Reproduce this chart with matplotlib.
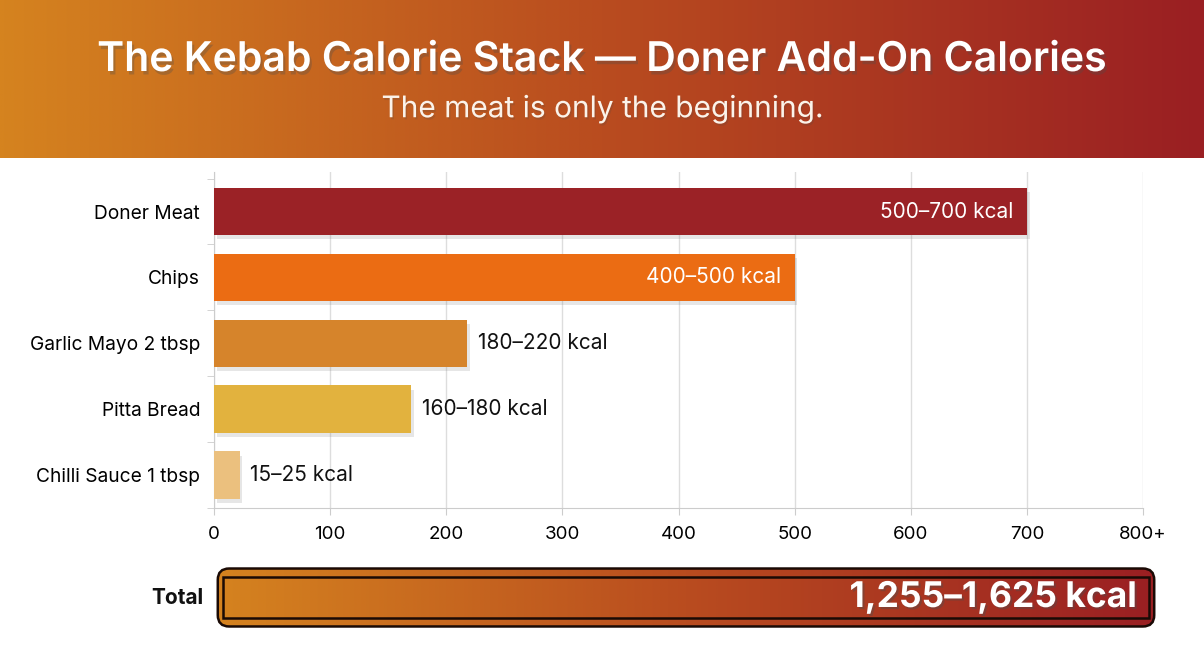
import numpy as np
import matplotlib
matplotlib.use('Agg')
import matplotlib.pyplot as plt
import matplotlib.patheffects as pe
from matplotlib.colors import LinearSegmentedColormap
from matplotlib.patches import FancyBboxPatch, Rectangle

plt.rcParams['font.family'] = ['Inter', 'DejaVu Sans']

# data
categories = ['Doner Meat', 'Chips', 'Garlic Mayo 2 tbsp', 'Pitta Bread', 'Chilli Sauce 1 tbsp']
kcal_low = [500, 400, 180, 160, 15]
kcal_high = [700, 500, 220, 180, 25]
bar_values = [700, 500, 218, 170, 22]
bar_colors = ['#9B2226', '#EB6C13', '#D6842B', '#E2B23E', '#EBC07E']
x_ticks = [0, 100, 200, 300, 400, 500, 600, 700, 800]
x_tick_labels = ['0', '100', '200', '300', '400', '500', '600', '700', '800+']

W, H = 1204, 672
fig = plt.figure(figsize=(W / 100, H / 100), dpi=100)
fig.patch.set_facecolor('white')

grad = LinearSegmentedColormap.from_list('kebab', ['#D5831F', '#B94C1F', '#9A1F23'])
ramp = np.linspace(0, 1, 512).reshape(1, -1)

# header band
hax = fig.add_axes([0, 1 - 158 / H, 1, 158 / H])
hax.imshow(ramp, cmap=grad, aspect='auto', extent=[0, 1, 0, 1])
hax.set_xlim(0, 1)
hax.set_ylim(0, 1)
hax.axis('off')
hax.text(0.5, 1 - 60 / 158, 'The Kebab Calorie Stack \u2014 Doner Add-On Calories',
         ha='center', va='center', color='white', fontsize=29.5, fontweight='semibold',
         path_effects=[pe.SimplePatchShadow(offset=(1.5, -2.5), alpha=0.3), pe.Normal()])
hax.text(0.5, 1 - 109 / 158, 'The meat is only the beginning.', ha='center', va='center',
         color='#FBF3EA', fontsize=21.5,
         path_effects=[pe.SimplePatchShadow(offset=(1, -1.5), alpha=0.2), pe.Normal()])

# main bar chart
ax = fig.add_axes([214 / W, 1 - 508 / H, (1143 - 214) / W, (508 - 172) / H])
y = np.arange(len(categories))
bars = ax.barh(y, bar_values, height=0.72, color=bar_colors, zorder=3)
for b in bars:
    b.set_path_effects([pe.SimplePatchShadow(offset=(2, -3), shadow_rgbFace='#777777', alpha=0.18),
                        pe.Normal()])

ax.set_xlim(0, 800)
ax.set_ylim(len(categories) - 0.5, -0.6)
ax.set_xticks(x_ticks)
ax.set_xticklabels(x_tick_labels, fontsize=13.5)
ax.set_yticks(y)
ax.set_yticklabels(categories, fontsize=13.8)
ax.set_yticks(np.arange(len(categories) + 1) - 0.5, minor=True)
ax.tick_params(axis='y', which='major', length=0, pad=10)
ax.tick_params(axis='y', which='minor', length=5, color='#cccccc')
ax.tick_params(axis='x', length=5, color='#cccccc', pad=8)
ax.grid(axis='x', color='#dddddd', linewidth=1, zorder=0)
for s in ['top', 'right']:
    ax.spines[s].set_visible(False)
ax.spines['left'].set_color('#cccccc')
ax.spines['bottom'].set_color('#cccccc')

for i, (lo, hi, v) in enumerate(zip(kcal_low, kcal_high, bar_values)):
    label = f'{lo}\u2013{hi} kcal'
    if v > 400:
        ax.text(v - 12, i, label, ha='right', va='center', color='white', fontsize=15, zorder=4)
    else:
        ax.text(v + 9, i, label, ha='left', va='center', color='#111111', fontsize=15, zorder=4)

# total bar
total_low = sum(kcal_low)
total_high = sum(kcal_high)
tax = fig.add_axes([214 / W, 1 - 629 / H, (1158 - 214) / W, 63 / H])
tax.set_xlim(0, 1)
tax.set_ylim(0, 1)
tax.axis('off')
box = FancyBboxPatch((0.004, 0.04), 0.992, 0.92, boxstyle='round,pad=0,rounding_size=0.012',
                     mutation_aspect=15, facecolor='none', edgecolor='#1a0a05', linewidth=1.8,
                     transform=tax.transAxes, zorder=3)
tax.add_patch(box)
im = tax.imshow(ramp, cmap=grad, aspect='auto', extent=[0, 1, 0, 1], zorder=1)
im.set_clip_path(box)
tax.add_patch(Rectangle((0.01, 0.18), 0.98, 0.64, facecolor='none', edgecolor='#1a0a05',
                        linewidth=1.8, zorder=4))
tax.text(0.978, 0.5, f'{total_low:,}\u2013{total_high:,} kcal', ha='right', va='center',
         color='white', fontsize=25.5, fontweight='bold', zorder=5,
         path_effects=[pe.SimplePatchShadow(offset=(1.5, -1.5), alpha=0.4), pe.Normal()])
fig.text(203 / W, 1 - 598 / H, 'Total', ha='right', va='center', fontsize=15, fontweight='bold',
         color='#111111')

fig.savefig('out.png', dpi=100)
